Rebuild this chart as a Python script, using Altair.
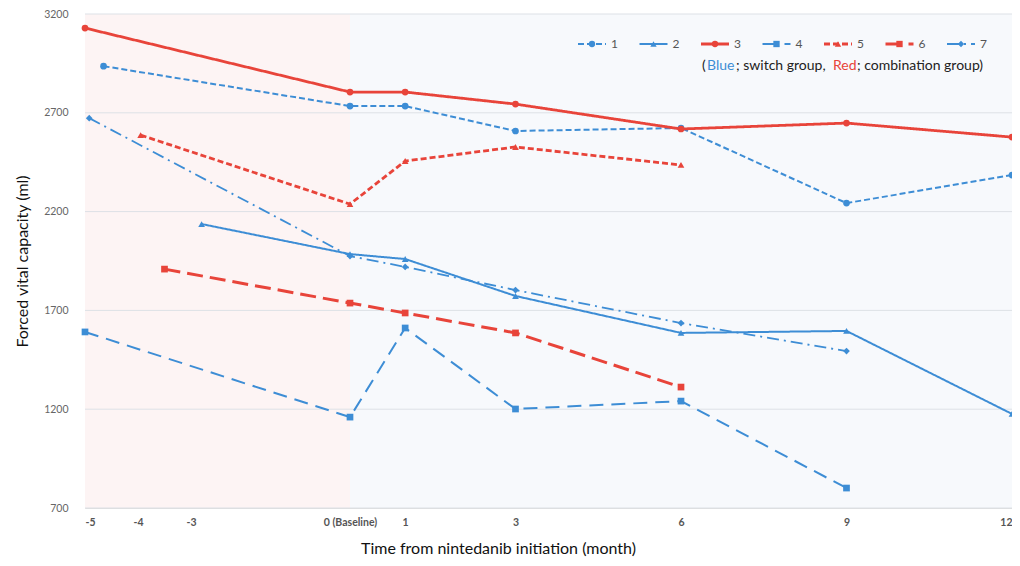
import altair as alt
import pandas as pd

# ---- data ----
series_names = ["1", "2", "3", "4", "5", "6", "7"]
s1_months = [-4.65, 0, 1, 3, 6, 9, 12]
s1_fvc = [2936, 2734, 2734, 2608, 2623, 2243, 2385]
s2_months = [-2.8, 0, 1, 3, 6, 9, 12]
s2_fvc = [2137, 1985, 1960, 1773, 1586, 1596, 1176]
s3_months = [-5, 0, 1, 3, 6, 9, 12]
s3_fvc = [3129, 2805, 2805, 2744, 2618, 2648, 2577]
s4_months = [-5, 0, 1, 3, 6, 9]
s4_fvc = [1591, 1160, 1611, 1201, 1241, 801]
s5_months = [-3.95, 0, 1, 3, 6]
s5_fvc = [2587, 2238, 2456, 2527, 2436]
s6_months = [-3.5, 0, 1, 3, 6]
s6_fvc = [1909, 1737, 1687, 1586, 1312]
s7_months = [-4.92, 0, 1, 3, 6, 9]
s7_fvc = [2673, 1975, 1920, 1803, 1636, 1494]

x_ticks = [-5, -4, -3, 0, 1, 3, 6, 9, 12]
y_ticks = [700, 1200, 1700, 2200, 2700, 3200]

BLUE = "#3d8dd5"
RED = "#e8443a"
colors = [BLUE, BLUE, RED, BLUE, RED, RED, BLUE]
dashes = [[6, 3], [1, 0], [1, 0], [14, 8], [6, 3], [16, 7], [12, 5, 2, 5]]
shapes = ["circle", "triangle-up", "circle", "square", "triangle-up", "square", "diamond"]
widths = [2, 2, 2.8, 2, 2.8, 3, 1.8]

all_m = [s1_months, s2_months, s3_months, s4_months, s5_months, s6_months, s7_months]
all_v = [s1_fvc, s2_fvc, s3_fvc, s4_fvc, s5_fvc, s6_fvc, s7_fvc]

W, H = 927, 494
FONT = "Lato"

xscale = alt.Scale(domain=[-5, 0, 12], range=[0, 265, W], nice=False, zero=False)
yscale = alt.Scale(domain=[700, 3200], nice=False, zero=False)

bg = pd.DataFrame({"a": [-5, 0], "b": [0, 12], "c": ["#fdf4f4", "#f7f9fc"]})
bg_layer = alt.Chart(bg).mark_rect().encode(
    x=alt.X("a:Q", scale=xscale, axis=alt.Axis(
        values=x_ticks, grid=False, domain=False, ticks=False,
        labelExpr="datum.value == 0 ? '0 (Baseline)' : (datum.value < 0 ? '-' + abs(datum.value) : '' + datum.value)",
        labelFont=FONT, labelFontSize=10.5, labelColor="#555555", labelPadding=9,
        labelFontWeight="bold",
        title="Time from nintedanib initiation (month)", titleFont=FONT,
        titleFontSize=16, titleFontWeight="normal", titleColor="#111111",
        titleX=413, titleY=32, titleAnchor="middle", titleAlign="center")),
    x2="b:Q",
    y=alt.value(0),
    y2=alt.value(H),
    color=alt.Color("c:N", scale=None),
)

grid_df = pd.DataFrame({"g": y_ticks})
grid_layer = alt.Chart(grid_df).mark_rule(color="#dde1e6", strokeWidth=1).encode(
    y=alt.Y("g:Q", scale=yscale, axis=alt.Axis(
        values=y_ticks, grid=False, domain=False, ticks=False, format="d",
        labelFont=FONT, labelFontSize=10.5, labelColor="#666666", labelPadding=17,
        title="Forced vital capacity (ml)", titleFont=FONT, titleFontSize=16,
        titleFontWeight="normal", titleColor="#111111", titleX=-55)),
)

layers = [bg_layer, grid_layer]
for i, name in enumerate(series_names):
    df = pd.DataFrame({"month": all_m[i], "fvc": all_v[i]})
    base = alt.Chart(df).encode(
        x=alt.X("month:Q", scale=xscale),
        y=alt.Y("fvc:Q", scale=yscale),
    )
    line = base.mark_line(color=colors[i], strokeDash=dashes[i], strokeWidth=widths[i])
    pts = base.mark_point(shape=shapes[i], filled=True, color=colors[i], size=45, opacity=1)
    layers += [line, pts]

main = alt.layer(*layers)

# ---- custom legend ----
leg = pd.DataFrame({"series": series_names, "idx": list(range(7))})
lscale = alt.Scale(domain=[0, 6], range=[493, 493 + 6 * 61.5])
leg_layers = []
for i, name in enumerate(series_names):
    one = alt.Chart(leg[leg.series == name])
    leg_layers.append(one.mark_rule(color=colors[i], strokeDash=dashes[i],
                                    strokeWidth=widths[i], x2Offset=28).encode(
        x=alt.X("idx:Q", scale=lscale, axis=None), x2="idx:Q", y=alt.value(30)))
    leg_layers.append(one.mark_point(shape=shapes[i], filled=True, color=colors[i], size=40,
                                     opacity=1, xOffset=14).encode(
        x=alt.X("idx:Q", scale=lscale, axis=None), y=alt.value(30)))
    leg_layers.append(one.mark_text(align="left", baseline="middle", dx=33, font=FONT,
                                    fontSize=12, color="#555555").encode(
        x=alt.X("idx:Q", scale=lscale, axis=None), y=alt.value(30), text="series:N"))

cap_text = ["(", "Blue", "; switch group,", "Red", "; combination group)"]
cap_col = ["#222222", BLUE, "#222222", RED, "#222222"]
cap_x = [617, 622, 651, 748, 772]
cap_layers = []
for t, c, xx in zip(cap_text, cap_col, cap_x):
    cap_layers.append(alt.Chart(pd.DataFrame({"t": [t]})).mark_text(
        align="left", baseline="middle", font=FONT, fontSize=14, color=c).encode(
        x=alt.value(xx), y=alt.value(52), text="t:N"))

legend = alt.layer(*leg_layers, *cap_layers)

chart = alt.layer(main, legend).resolve_scale(x="independent").properties(
    width=W, height=H,
    autosize=alt.AutoSizeParams(type="none"),
    padding={"left": 77, "top": 6, "right": 0, "bottom": 50},
).configure_view(stroke=None).configure(background="white")

chart.save("out.html", embed_options={"renderer": "svg", "actions": False})
